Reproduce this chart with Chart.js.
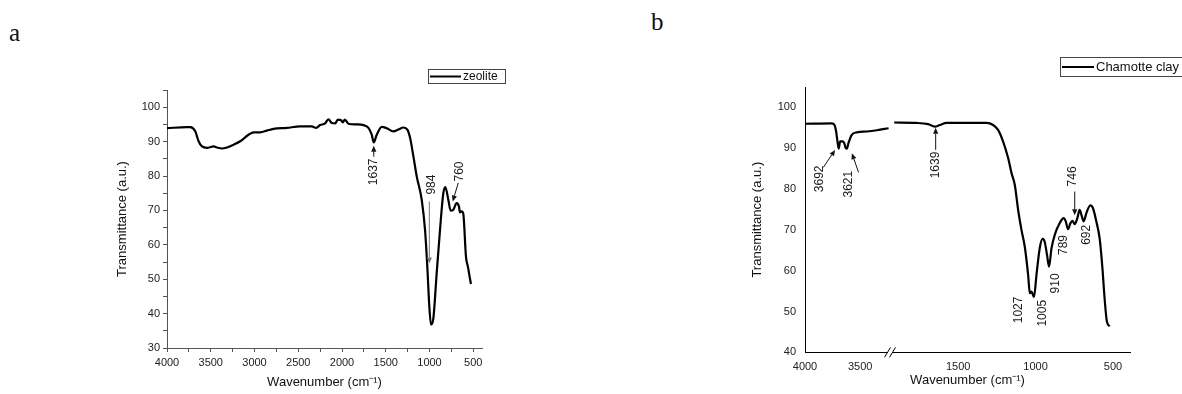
<!DOCTYPE html>
<html>
<head>
<meta charset="utf-8">
<script src="https://cdn.jsdelivr.net/npm/chart.js@4.4.0/dist/chart.umd.min.js"></script>
<style>
  body { margin: 0; background: #fff; width: 1182px; height: 394px; overflow: hidden; position: relative; }
  .panel { position: absolute; top: 0; width: 591px; height: 394px; }
  .tag { position: absolute; font-family: "Liberation Serif", "Times New Roman", serif; font-size: 25px; color: #111; line-height: 1; }
</style>
</head>
<body>
<div class="tag" style="left:9px; top:20px;">a</div>
<div class="tag" style="left:651px; top:9px;">b</div>
<div class="panel" style="left:0"><canvas id="chartA"></canvas></div>
<div class="panel" style="left:591px"><canvas id="chartB"></canvas></div>

<script>
// zeolite spectrum (panel a)
const zeoliteWn = [4000, 3772, 3734, 3677, 3639, 3600, 3543, 3490, 3467, 3430, 3372, 3315, 3239, 3163, 3068,
  3011, 2935, 2859, 2782, 2630, 2478, 2345, 2295, 2250, 2193, 2155, 2117, 2078, 2048, 2014, 1991, 1968, 1926,
  1831, 1755, 1698, 1660, 1637, 1603, 1546, 1489, 1413, 1356, 1298, 1253, 1222, 1184, 1146, 1089, 1051, 1025,
  1002, 983, 956, 918, 880, 842, 819, 785, 758, 728, 690, 663, 652, 633, 614, 583, 560, 538, 526];
const zeoliteT = [93.9, 94.2, 94.2, 93.0, 90.1, 88.6, 88.2, 88.5, 88.6, 88.3, 88.0, 88.3, 89.1, 90.1, 92.0,
  92.7, 92.7, 93.2, 93.7, 94.0, 94.4, 94.4, 94.0, 94.8, 95.3, 96.5, 95.4, 95.3, 96.4, 96.3, 95.6, 96.4, 95.2,
  95.0, 94.8, 94.0, 92.0, 89.8, 92.0, 94.3, 93.9, 93.0, 93.5, 94.1, 93.5, 91.1, 85.7, 79.9, 73.1, 64.3, 53.6,
  42.0, 36.8, 38.6, 51.7, 64.3, 75.0, 76.8, 73.1, 69.9, 70.2, 72.1, 71.1, 69.4, 69.7, 69.0, 56.5, 53.5, 50.2, 48.6];

// chamotte clay spectrum (panel b), split at the axis break
const clayWnHigh = [4000, 3758, 3733, 3718, 3706, 3694, 3682, 3661, 3645, 3630, 3621, 3606, 3576, 3530, 3439, 3349, 3243];
const clayTHigh = [96.0, 96.1, 95.7, 94.1, 91.7, 89.9, 91.7, 91.7, 91.3, 90.0, 89.9, 91.3, 93.3, 93.9, 94.1, 94.4, 94.9];
const clayWnLow = [1913, 1768, 1694, 1650, 1618, 1575, 1446, 1317, 1274, 1242, 1210, 1177, 1155, 1134, 1111,
  1091, 1070, 1048, 1037, 1026, 1016, 1010, 994, 973, 955, 941, 926, 913, 897, 876, 848, 818, 805, 790, 775,
  762, 747, 730, 715, 704, 689, 672, 646, 629, 607, 586, 568, 554, 539, 521];
const clayTLow = [96.3, 96.2, 95.9, 95.3, 95.7, 96.2, 96.2, 96.2, 95.7, 94.5, 91.7, 87.6, 83.9, 81.0, 74.5,
  70.0, 66.0, 59.0, 54.5, 54.9, 54.0, 53.6, 59.0, 65.5, 67.8, 67.1, 63.9, 61.0, 65.5, 68.8, 71.4, 72.9, 72.1,
  70.2, 71.6, 72.2, 71.4, 72.9, 74.9, 73.7, 72.1, 74.1, 76.0, 75.3, 72.0, 67.9, 60.6, 53.2, 47.5, 46.4];

// tick values
const zeoliteTicksX = [4000, 3750, 3500, 3250, 3000, 2750, 2500, 2250, 2000, 1750, 1500, 1250, 1000, 750, 500];
const clayTicksHigh = [4000, 3500];
const clayTicksLow = [1500, 1000, 500];

// peak labels: text centre and arrow ends in data units
const zeolitePeaks = [
  { label: '1637', x: 1642, y: 81.2, from: [1637, 85.6], to: [1637, 88.8] },
  { label: '984', x: 975, y: 77.5, from: [1002, 72.6], to: [1002, 54.6], grey: true },
  { label: '760', x: 652, y: 81.3, from: [671, 78.0], to: [735, 72.6] }
];
const clayPeaks = [
  { label: '3692', x: 3870, y: 82.5, from: [3834, 85.3], to: [3727, 89.6] },
  { label: '3621', x: 3606, y: 81.2, from: [3515, 84.1], to: [3575, 88.8] },
  { label: '1639', x: 1644, y: 85.9, from: [1645, 89.6], to: [1645, 95.0] },
  { label: '1027', x: 1106, y: 50.4 },
  { label: '1005', x: 952, y: 49.6 },
  { label: '910', x: 870, y: 56.9 },
  { label: '789', x: 816, y: 66.3 },
  { label: '692', x: 668, y: 68.8 },
  { label: '746', x: 758, y: 83.1, from: [747, 79.4], to: [747, 73.6] }
];

const FONT = '"Liberation Sans", Arial, Helvetica, sans-serif';
Chart.defaults.font.family = FONT;
Chart.defaults.color = '#222';

function toPoints(xs, ys) {
  return xs.map((x, i) => ({ x: x, y: ys[i] }));
}

function fixedTicks(values) {
  return s => { s.ticks = values.map(v => ({ value: v })); };
}

function drawArrow(ctx, x1, y1, x2, y2, color) {
  const a = Math.atan2(y2 - y1, x2 - x1);
  const len = 6, w = 2.6;
  ctx.strokeStyle = color;
  ctx.fillStyle = color;
  ctx.lineWidth = 1;
  ctx.beginPath();
  ctx.moveTo(x1, y1);
  ctx.lineTo(x2 - Math.cos(a) * len, y2 - Math.sin(a) * len);
  ctx.stroke();
  ctx.beginPath();
  ctx.moveTo(x2, y2);
  ctx.lineTo(x2 - Math.cos(a) * len - Math.sin(a) * w, y2 - Math.sin(a) * len + Math.cos(a) * w);
  ctx.lineTo(x2 - Math.cos(a) * len + Math.sin(a) * w, y2 - Math.sin(a) * len - Math.cos(a) * w);
  ctx.closePath();
  ctx.fill();
}

function xScaleFor(chart, wn) {
  if (chart.scales.x) return chart.scales.x;
  return wn > 2500 ? chart.scales.xL : chart.scales.xR;
}

const peakLabels = {
  id: 'peakLabels',
  afterDatasetsDraw(chart, args, opts) {
    const ctx = chart.ctx;
    const ys = chart.scales.y;
    ctx.save();
    opts.items.forEach(p => {
      const tx = xScaleFor(chart, p.x).getPixelForValue(p.x);
      const ty = ys.getPixelForValue(p.y);
      ctx.save();
      ctx.translate(tx, ty);
      ctx.rotate(-Math.PI / 2);
      ctx.font = '12px ' + FONT;
      ctx.fillStyle = '#1a1a1a';
      ctx.textAlign = 'center';
      ctx.textBaseline = 'middle';
      ctx.fillText(p.label, 0, 0);
      ctx.restore();
      if (p.from) {
        const x1 = xScaleFor(chart, p.from[0]).getPixelForValue(p.from[0]);
        const y1 = ys.getPixelForValue(p.from[1]);
        const x2 = xScaleFor(chart, p.to[0]).getPixelForValue(p.to[0]);
        const y2 = ys.getPixelForValue(p.to[1]);
        drawArrow(ctx, x1, y1, x2, y2, p.grey ? '#777' : '#111');
      }
    });
    ctx.restore();
  }
};

const boxLegend = {
  id: 'boxLegend',
  afterDraw(chart, args, o) {
    const ctx = chart.ctx;
    const ds = chart.data.datasets[0];
    const midY = o.top + o.height / 2;
    ctx.save();
    ctx.strokeStyle = '#444';
    ctx.lineWidth = 1;
    ctx.strokeRect(o.left + 0.5, o.top + 0.5, o.width, o.height);
    ctx.strokeStyle = ds.borderColor;
    ctx.lineWidth = 2;
    ctx.beginPath();
    ctx.moveTo(o.left + 2, midY + 0.5);
    ctx.lineTo(o.left + o.sample, midY + 0.5);
    ctx.stroke();
    ctx.fillStyle = '#111';
    ctx.font = o.font + ' ' + FONT;
    ctx.textBaseline = 'middle';
    ctx.fillText(ds.label, o.left + o.sample + 2, midY + 1);
    ctx.restore();
  }
};

const axisBreak = {
  id: 'axisBreak',
  afterDraw(chart) {
    const ctx = chart.ctx;
    const x = chart.scales.xL.right;
    const y = chart.chartArea.bottom;
    ctx.save();
    ctx.fillStyle = '#fff';
    ctx.fillRect(x - 2, y - 2, 4, 4);
    ctx.strokeStyle = '#000';
    ctx.lineWidth = 1;
    [-2.5, 2.5].forEach(dx => {
      ctx.beginPath();
      ctx.moveTo(x + dx - 3, y + 5);
      ctx.lineTo(x + dx + 3, y - 5);
      ctx.stroke();
    });
    ctx.restore();
  }
};

const clayTickOpts = { maxRotation: 0, autoSkip: false, padding: 8, font: { size: 11 }, color: '#222', callback: v => String(v) };

// panel a
new Chart(document.getElementById('chartA'), {
  type: 'line',
  data: {
    datasets: [{
      label: 'zeolite',
      data: toPoints(zeoliteWn, zeoliteT),
      borderColor: '#000',
      borderWidth: 2.2,
      pointRadius: 0,
      cubicInterpolationMode: 'monotone'
    }]
  },
  options: {
    responsive: true,
    maintainAspectRatio: false,
    animation: false,
    layout: { padding: { left: 111, right: 109, top: 90, bottom: 0 } },
    plugins: {
      legend: { display: false },
      tooltip: { enabled: false },
      peakLabels: { items: zeolitePeaks },
      boxLegend: { left: 428, top: 69, width: 77, height: 14, sample: 33, font: '12px' }
    },
    scales: {
      x: {
        type: 'linear',
        reverse: true,
        min: 400,
        max: 4000,
        afterBuildTicks: fixedTicks(zeoliteTicksX),
        afterFit: s => { s.height = 46; },
        border: { color: '#555' },
        grid: { drawOnChartArea: false, tickLength: 4, color: '#555' },
        ticks: {
          maxRotation: 0,
          autoSkip: false,
          padding: 4,
          font: { size: 11 },
          color: '#222',
          callback: v => (v % 500 === 0 ? String(v) : '')
        },
        title: { display: true, text: 'Wavenumber (cm\u207B\u00B9)', font: { size: 13 }, color: '#111', padding: 4 }
      },
      y: {
        min: 30,
        max: 105,
        afterFit: s => { s.width = 56; },
        border: { color: '#555' },
        grid: { drawOnChartArea: false, tickLength: 4, color: '#555' },
        ticks: {
          stepSize: 5,
          includeBounds: false,
          padding: 3,
          font: { size: 11 },
          color: '#222',
          callback: v => (v % 10 === 0 ? v : '')
        },
        title: { display: true, text: 'Transmittance (a.u.)', font: { size: 13 }, color: '#111', padding: 4 }
      }
    }
  },
  plugins: [peakLabels, boxLegend]
});

// panel b: two stacked x scales make the broken axis
new Chart(document.getElementById('chartB'), {
  type: 'line',
  data: {
    datasets: [{
      label: 'Chamotte clay',
      data: toPoints(clayWnHigh, clayTHigh),
      xAxisID: 'xL',
      borderColor: '#000',
      borderWidth: 2.2,
      pointRadius: 0,
      cubicInterpolationMode: 'monotone'
    }, {
      label: 'Chamotte clay',
      data: toPoints(clayWnLow, clayTLow),
      xAxisID: 'xR',
      borderColor: '#000',
      borderWidth: 2.2,
      pointRadius: 0,
      cubicInterpolationMode: 'monotone'
    }]
  },
  options: {
    responsive: true,
    maintainAspectRatio: false,
    animation: false,
    layout: { padding: { left: 155, right: 52, top: 87, bottom: 2 } },
    plugins: {
      legend: { display: false },
      tooltip: { enabled: false },
      title: {
        display: true,
        position: 'bottom',
        fullSize: false,
        text: 'Wavenumber (cm\u207B\u00B9)',
        font: { size: 13, weight: 'normal' },
        color: '#111',
        padding: { top: 0, bottom: 4 }
      },
      peakLabels: { items: clayPeaks },
      boxLegend: { left: 469, top: 57, width: 140, height: 19, sample: 34, font: '13px' }
    },
    scales: {
      xL: {
        type: 'linear',
        position: 'bottom',
        stack: 'wn',
        stackWeight: 85,
        reverse: true,
        min: 3230,
        max: 4000,
        afterBuildTicks: fixedTicks(clayTicksHigh),
        afterFit: s => { s.height = 20; },
        border: { color: '#000' },
        grid: { display: false, drawTicks: false },
        ticks: clayTickOpts
      },
      xR: {
        type: 'linear',
        position: 'bottom',
        stack: 'wn',
        stackWeight: 240,
        reverse: true,
        min: 390,
        max: 1940,
        afterBuildTicks: fixedTicks(clayTicksLow),
        afterFit: s => { s.height = 20; },
        border: { color: '#000' },
        grid: { display: false, drawTicks: false },
        ticks: clayTickOpts
      },
      y: {
        min: 40,
        max: 105,
        afterFit: s => { s.width = 59; },
        border: { color: '#000' },
        grid: { display: false, drawTicks: false },
        ticks: { stepSize: 10, includeBounds: false, padding: 9, font: { size: 11 }, color: '#222' },
        title: { display: true, text: 'Transmittance (a.u.)', font: { size: 13 }, color: '#111', padding: 4 }
      }
    }
  },
  plugins: [peakLabels, boxLegend, axisBreak]
});
</script>
</body>
</html>
